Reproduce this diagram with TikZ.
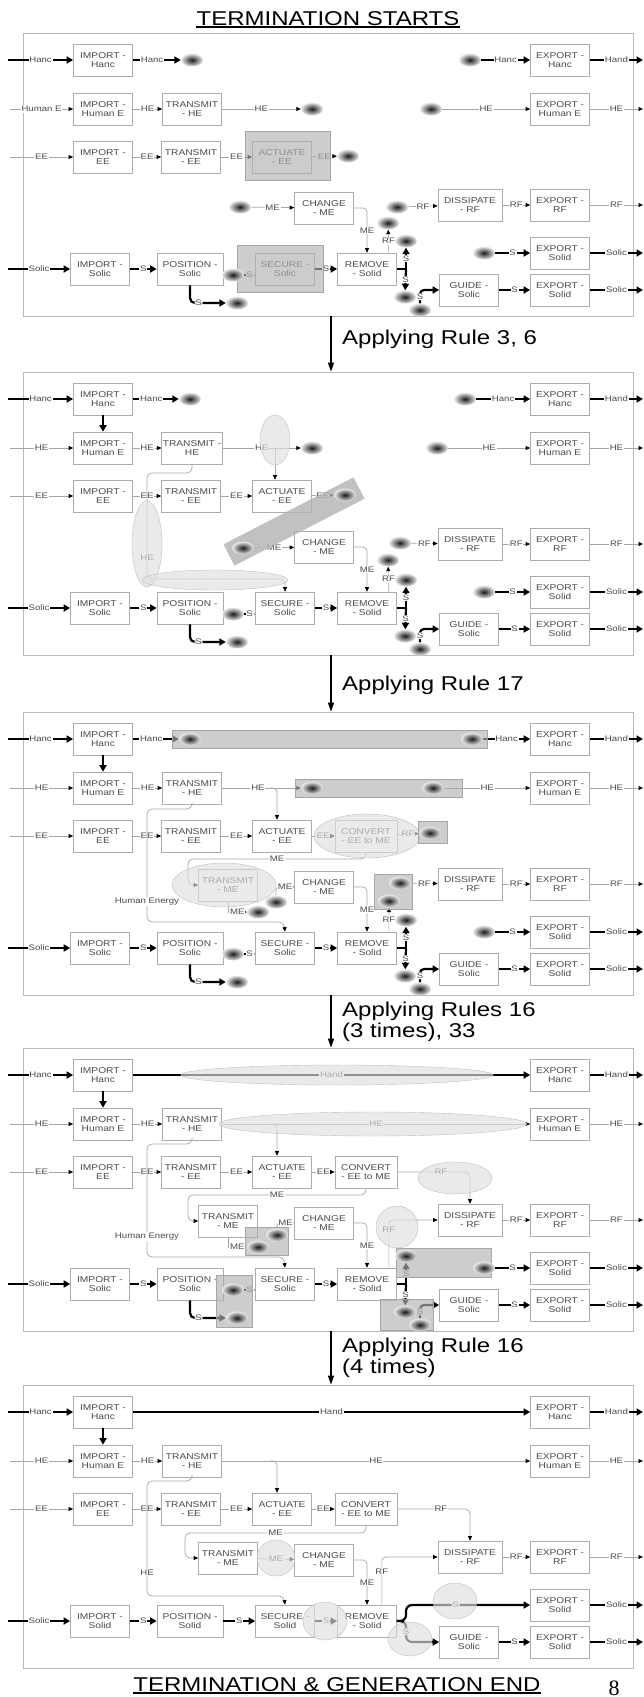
\documentclass[tikz,border=0pt]{standalone}
\usepackage{fontspec}
\setmainfont{Liberation Sans}[FakeStretch=1.2]
\newfontfamily\pagefont{Liberation Serif}
\usetikzlibrary{arrows.meta,shapes.geometric}
\pgfdeclarelayer{marks}
\pgfdeclarelayer{blobs}
\pgfsetlayers{main,marks,blobs}

\newcommand\boxfont{\fontsize{8.5}{9.5}\selectfont}
\newcommand\lblfont{\fontsize{8}{9}\selectfont}
\newcommand\bigfont{\fontsize{20}{21}\selectfont}

\tikzset{
  fn/.style={draw=gray!65, fill=white, line width=0.7pt, minimum width=59pt, minimum height=32pt, inner sep=1pt, align=center, font=\boxfont, text=black!70},
  frame/.style={draw=gray!55, line width=0.8pt, minimum width=610pt, minimum height=283pt, inner sep=0pt},
  blob/.style={ellipse, minimum width=22pt, minimum height=13pt, inner sep=0pt, inner color=black!90, outer color=gray!15},
  lbl/.style={fill=white, inner sep=0.8pt, font=\lblfont, text=black!70},
  sigline/.style={draw=gray!70, line width=0.7pt},
  sig/.style={sigline, -{Triangle[length=4.5pt, width=4pt, color=black]}},
  matline/.style={draw=black, line width=2.2pt},
  mat/.style={matline, -{Triangle[length=6.5pt, width=7pt]}},
  dk/.style={draw=gray!70, fill=gray!60, fill opacity=0.65},
  lt/.style={draw=gray!50, fill=gray!25, fill opacity=0.65},
  flow/.style={line width=1.3pt, -{Triangle[length=9pt, width=6pt]}},
  ttl/.style={font=\bigfont, inner sep=0pt}
}

% function structure shared by all five stages
\newcommand\skel[4]{%
  \node[frame] (#1fr) at (328,141.5) {};
  \node[fn] (#1ih) at (103,27) {IMPORT -\\Hanc};
  \node[fn] (#1ihe) at (103,76) {IMPORT -\\Human E};
  \node[fn] (#1iee) at (103,124) {IMPORT -\\EE};
  \node[fn] (#1is) at (100,236) {IMPORT -\\#4};
  \node[fn] (#1the) at (192,76) {#3};
  \node[fn] (#1tee) at (191,124) {TRANSMIT\\- EE};
  \node[fn] (#1act) at (282,124) {ACTUATE\\- EE};
  \node[fn] (#1chg) at (324,175) {CHANGE\\- ME};
  \node[fn, minimum width=66pt] (#1pos) at (190,236) {POSITION -\\#4};
  \node[fn] (#1sec) at (285,236) {SECURE -\\#4};
  \node[fn] (#1rem) at (367,236) {REMOVE\\- Solid};
  \node[fn, minimum width=64pt] (#1dis) at (470,172) {DISSIPATE\\- RF};
  \node[fn] (#1gui) at (469,257) {GUIDE -\\Solic};
  \node[fn] (#1eh) at (560,27) {EXPORT -\\Hanc};
  \node[fn] (#1ehe) at (560,76) {EXPORT -\\Human E};
  \node[fn] (#1erf) at (560,172) {EXPORT -\\RF};
  \node[fn] (#1es1) at (560,220) {EXPORT -\\Solid};
  \node[fn] (#1es2) at (560,257) {EXPORT -\\Solid};
  \coordinate (#1inh) at (8,27);
  \coordinate (#1inhe) at (10,76);
  \coordinate (#1inee) at (10,124);
  \coordinate (#1ins) at (8,236);
  \coordinate (#1oh) at (643,27);
  \coordinate (#1ohe) at (643,76);
  \coordinate (#1orf) at (643,172);
  \coordinate (#1os1) at (643,220);
  \coordinate (#1os2) at (643,257);
  \draw[mat] (#1inh) -- node[lbl] {Hanc} (#1ih);
  \draw[sig] (#1inhe) -- node[lbl] {#2} (#1ihe);
  \draw[sig] (#1inee) -- node[lbl] {EE} (#1iee);
  \draw[mat] (#1ins) -- node[lbl] {Solic} (#1is);
  \draw[sig] (#1ihe) -- node[lbl] {HE} (#1the);
  \draw[sig] (#1iee) -- node[lbl] {EE} (#1tee);
  \draw[sig] (#1tee) -- node[lbl] {EE} (#1act);
  \draw[mat] (#1is) -- node[lbl] {S} (#1pos);
  \draw[sig] (#1dis) -- node[lbl] {RF} (#1erf);
  \draw[mat] (#1gui) -- node[lbl] {S} (#1es2);
  \draw[mat] (#1eh) -- node[lbl] {Hand} (#1oh);
  \draw[sig] (#1ehe) -- node[lbl] {HE} (#1ohe);
  \draw[sig] (#1erf) -- node[lbl] {RF} (#1orf);
  \draw[mat] (#1es1) -- node[lbl] {Solic} (#1os1);
  \draw[mat] (#1es2) -- node[lbl] {Solic} (#1os2);
  \draw[sig, rounded corners=4pt] (#1chg.east) -| node[lbl, pos=0.75] {ME} (#1rem.north);
}

% open ends round the solid flow (stages 1 to 4)
\newcommand\solidrow[1]{%
  \begin{pgfonlayer}{blobs}
    \node[blob] (#1ss) at (233,242) {};
    \node[blob] (#1ps) at (237,270) {};
    \node[blob] (#1us) at (406,208) {};
    \node[blob] (#1ls) at (405,264) {};
    \node[blob] (#1gs) at (420,277) {};
    \node[blob] (#1or) at (484,220) {};
  \end{pgfonlayer}
  \draw[mat] (#1ss.east) -- node[lbl] {S} (#1ss.east -| #1sec.west);
  \draw[mat, rounded corners=5pt] (#1pos.south) |- node[lbl, pos=0.62] {S} (#1ps);
  \draw[mat] (#1sec) -- node[lbl] {S} (#1rem);
  \coordinate (#1jn) at (406,236);
  \draw[matline] (#1rem.east) -- (#1jn);
  \draw[mat] (#1jn) -- node[lbl] {S} (#1us);
  \draw[mat] (#1jn) -- node[lbl] {S} (#1ls);
  \draw[mat, rounded corners=4pt] (#1gs) |- node[lbl, pos=0.25] {S} (#1gui.west);
  \draw[mat] (#1or) -- node[lbl] {S} (#1es1);
}

\begin{document}
\begin{tikzpicture}[x=1pt, y=-1pt]
  \useasboundingbox (0,0) rectangle (644,1697);

  \node[ttl, anchor=base] (ttop) at (328,25) {TERMINATION STARTS};
  \draw[line width=1.2pt] ([yshift=-2pt]ttop.base west) -- ([yshift=-2pt]ttop.base east);

  % stage 1
  \begin{scope}[shift={(0,33)}]
    \skel{a}{Human E}{TRANSMIT\\- HE}{Solic}
    \begin{pgfonlayer}{blobs}
      \node[blob] (ahs) at (192,27) {};
      \node[blob] (ahr) at (470,27) {};
      \node[blob] (aes) at (312,76) {};
      \node[blob] (aer) at (431,76) {};
      \node[blob] (aees) at (348,123) {};
      \node[blob] (amr) at (240,174) {};
      \node[blob] (arr) at (397,174) {};
      \node[blob] (ars) at (388,190) {};
    \end{pgfonlayer}
    \solidrow{a}
    \draw[mat] (aih) -- node[lbl, pos=0.4] {Hanc} (ahs);
    \draw[mat] (ahr) -- node[lbl] {Hanc} (aeh);
    \draw[sig] (athe) -- node[lbl] {HE} (aes);
    \draw[sig] (aer) -- node[lbl] {HE} (aehe);
    \draw[sig] (aact) -- node[lbl] {EE} (aees);
    \draw[sig] (amr) -- node[lbl] {ME} (achg);
    \draw[sig] (arr) -- node[lbl] {RF} (adis);
    \draw[sig] ([xshift=-8pt]arem.north east) -- node[lbl] {RF} (ars);
    \begin{pgfonlayer}{marks}
      \draw[dk] (245,98) rectangle (330,147);
      \draw[dk] (237,212) rectangle (323,259);
    \end{pgfonlayer}
  \end{scope}

  % stage 2
  \begin{scope}[shift={(0,372)}]
    \skel{b}{HE}{TRANSMIT -\\HE}{Solic}
    \draw[mat] (bih) -- (bihe);
    \begin{pgfonlayer}{blobs}
      \node[blob] (bhs) at (190,27) {};
      \node[blob] (bhr) at (465,27) {};
      \node[blob] (bes) at (312,76) {};
      \node[blob] (ber) at (437,76) {};
      \node[blob] (bees) at (345,123) {};
      \node[blob] (bmr) at (243,176) {};
      \node[blob] (brr) at (400,171) {};
      \node[blob] (brs) at (388,188) {};
    \end{pgfonlayer}
    \solidrow{b}
    \draw[mat] (bih) -- node[lbl, pos=0.4] {Hanc} (bhs);
    \draw[mat] (bhr) -- node[lbl] {Hanc} (beh);
    \coordinate (bhej) at (275,76);
    \draw[sigline] (bthe) -- node[lbl, pos=0.75] {HE} (bhej);
    \draw[sig] (bhej) -- (bes);
    \draw[sig] (bhej) -- (bhej |- bact.north);
    \draw[sig] (ber) -- node[lbl] {HE} (behe);
    \draw[sig] (bact) -- node[lbl] {EE} (bees);
    \draw[sig] (bmr) -- node[lbl] {ME} (bchg);
    \draw[sig] (brr) -- node[lbl] {RF} (bdis);
    \draw[sig] ([xshift=-8pt]brem.north east) -- node[lbl] {RF} (brs);
    \draw[sig, rounded corners=5pt] (bthe.south) |- (147,101) -- node[lbl, pos=0.8] {HE} (147,207) -- (285,207) -- (bsec.north);
    \begin{pgfonlayer}{marks}
      \draw[lt] (275,68) ellipse (15 and 25);
      \draw[lt] (147,172) ellipse (15 and 43);
      \draw[lt] (215,208) ellipse (73 and 10);
      \draw[line width=24pt, draw=gray!60, draw opacity=0.8] (229,183) -- (359,116);
    \end{pgfonlayer}
  \end{scope}

  % stage 3
  \begin{scope}[shift={(0,712)}]
    \skel{c}{HE}{TRANSMIT\\- HE}{Solic}
    \draw[mat] (cih) -- (cihe);
    \node[fn, minimum width=62pt] (cconv) at (366,124) {CONVERT\\- EE to ME};
    \node[fn] (ctme) at (228,173) {TRANSMIT\\- ME};
    \begin{pgfonlayer}{blobs}
      \node[blob] (chs) at (190,27) {};
      \node[blob] (chr) at (472,27) {};
      \node[blob] (ces) at (312,76) {};
      \node[blob] (cer) at (433,76) {};
      \node[blob] (cfs) at (430,121) {};
      \node[blob] (cms) at (258,200) {};
      \node[blob] (cmr) at (276,190) {};
      \node[blob] (crr) at (400,171) {};
      \node[blob] (crs) at (389,189) {};
    \end{pgfonlayer}
    \solidrow{c}
    \draw[mat] (cih) -- node[lbl, pos=0.4] {Hanc} (chs);
    \draw[mat] (chr) -- node[lbl] {Hanc} (ceh);
    \coordinate (chej) at (270,76);
    \draw[sigline] (cthe) -- node[lbl, pos=0.75] {HE} (chej);
    \draw[sig] (chej) -- (ces);
    \draw[sig, rounded corners=4pt] (chej) -| ([xshift=-5pt]cact.north);
    \draw[sig] (cer) -- node[lbl] {HE} (cehe);
    \draw[sig] (cact) -- node[lbl] {EE} (cconv);
    \draw[sig] (cconv) -- node[lbl] {RF} (cfs);
    \draw[sig, rounded corners=5pt] (cconv.south) |- node[lbl, pos=0.75] {ME} (188,147) |- (ctme.west);
    \draw[sig] (ctme.south) |- node[lbl, pos=0.75] {ME} (cms);
    \draw[sig, rounded corners=3pt] (cmr) |- node[lbl, pos=0.75] {ME} (cchg.west);
    \draw[sig] (crr) -- node[lbl] {RF} (cdis);
    \draw[sig] ([xshift=-8pt]crem.north east) -- node[lbl] {RF} (crs);
    \draw[sig, rounded corners=5pt] (cthe.south) |- (147,97) -- node[lbl, pos=0.82] {Human Energy} (147,210) -- (284,210) -- (csec.north);
    \begin{pgfonlayer}{marks}
      \draw[dk] (172,18) rectangle (487,36);
      \draw[dk] (295,67) rectangle (462,85);
      \draw[lt] (367,124) ellipse (53 and 22);
      \draw[dk] (418,109) rectangle (447,131);
      \draw[lt] (224,173) ellipse (52 and 22);
      \draw[dk] (374,162) rectangle (412,197);
    \end{pgfonlayer}
  \end{scope}

  % stage 4
  \begin{scope}[shift={(0,1048)}]
    \skel{d}{HE}{TRANSMIT\\- HE}{Solic}
    \draw[mat] (dih) -- (dihe);
    \node[fn, minimum width=62pt] (dconv) at (366,124) {CONVERT\\- EE to ME};
    \node[fn] (dtme) at (228,173) {TRANSMIT\\- ME};
    \begin{pgfonlayer}{blobs}
      \node[blob] (dms) at (258,199) {};
      \node[blob] (dmr) at (277,187) {};
    \end{pgfonlayer}
    \solidrow{d}
    \draw[mat] (dih) -- node[lbl, pos=0.5] {Hand} (deh);
    \draw[sig] (dthe) -- node[lbl] {HE} (dehe);
    \coordinate (dhej) at (270,76);
    \draw[sig, rounded corners=4pt] (dhej) -| ([xshift=-5pt]dact.north);
    \draw[sig] (dact) -- node[lbl] {EE} (dconv);
    \draw[sig, rounded corners=5pt] (dconv.east) -| node[lbl, pos=0.3] {RF} (ddis.north);
    \draw[sig, rounded corners=5pt] (dconv.south) |- node[lbl, pos=0.75] {ME} (188,147) |- (dtme.west);
    \draw[sig] (dtme.south) |- node[lbl, pos=0.75] {ME} (dms);
    \draw[sig, rounded corners=3pt] (dmr) |- node[lbl, pos=0.75] {ME} (dchg.west);
    \draw[sig, rounded corners=4pt] ([xshift=-8pt]drem.north east) |- node[lbl, pos=0.4] {RF} (ddis.west);
    \draw[sig, rounded corners=5pt] (dthe.south) |- (147,96) -- node[lbl, pos=0.82] {Human Energy} (147,209) -- (284,209) -- (dsec.north);
    \begin{pgfonlayer}{marks}
      \draw[lt] (337,27) ellipse (156 and 10);
      \draw[lt] (373,76) ellipse (154 and 12);
      \draw[lt] (455,130) ellipse (37 and 16);
      \draw[dk] (245,179) rectangle (288,207);
      \draw[lt] (397,179) circle (21);
      \draw[dk] (396,200) rectangle (491,229);
      \draw[dk] (216,227) rectangle (252,279);
      \draw[dk] (380,251) rectangle (433,282);
    \end{pgfonlayer}
  \end{scope}

  % stage 5
  \begin{scope}[shift={(0,1385)}]
    \skel{e}{HE}{TRANSMIT\\- HE}{Solid}
    \draw[mat] (eih) -- (eihe);
    \node[fn, minimum width=62pt] (econv) at (366,124) {CONVERT\\- EE to ME};
    \node[fn] (etme) at (228,173) {TRANSMIT\\- ME};
    \draw[mat] (eih) -- node[lbl] {Hand} (eeh);
    \draw[sig] (ethe) -- node[lbl] {HE} (eehe);
    \coordinate (ehej) at (270,76);
    \draw[sig, rounded corners=4pt] (ehej) -| ([xshift=-5pt]eact.north);
    \draw[sig] (eact) -- node[lbl] {EE} (econv);
    \draw[sig, rounded corners=5pt] (econv.east) -| node[lbl, pos=0.3] {RF} (edis.north);
    \draw[sig, rounded corners=5pt] (econv.south) |- node[lbl, pos=0.75] {ME} (185,148) |- (etme.west);
    \draw[sig] (etme) -- node[lbl] {ME} (echg);
    \draw[sig, rounded corners=5pt] (ethe.south) |- (147,96) -- node[lbl, pos=0.8] {HE} (147,211) -- (284,211) -- (esec.north);
    \draw[sig, rounded corners=4pt] ([xshift=-15pt]erem.north east) |- node[lbl, pos=0.35] {RF} (edis.west);
    \draw[mat] (epos) -- node[lbl] {S} (esec);
    \draw[mat] (esec) -- node[lbl] {S} (erem);
    \draw[mat, rounded corners=6pt] (erem.east) -- (406,236) |- node[lbl, pos=0.7] {S} (ees1.west);
    \draw[mat, rounded corners=6pt] (erem.east) -- (406,236) |- node[lbl, pos=0.25] {S} (egui.west);
    \begin{pgfonlayer}{marks}
      \draw[lt] (276,173) ellipse (19 and 18);
      \draw[lt] (455,216) ellipse (22 and 18);
      \draw[lt] (410,254) ellipse (22 and 17);
      \draw[lt] (325,236) ellipse (22 and 19);
    \end{pgfonlayer}
  \end{scope}

  % rule steps between the stages
  \draw[flow] ([xshift=3pt]afr.south) -- ([xshift=3pt]bfr.north);
  \draw[flow] ([xshift=3pt]bfr.south) -- ([xshift=3pt]cfr.north);
  \draw[flow] ([xshift=3pt]cfr.south) -- ([xshift=3pt]dfr.north);
  \draw[flow] ([xshift=3pt]dfr.south) -- ([xshift=3pt]efr.north);
  \node[ttl, anchor=base west] (r1) at (342,344) {Applying Rule 3, 6};
  \node[ttl, anchor=base west] (r2) at (342,690) {Applying Rule 17};
  \node[ttl, anchor=base west, align=left] (r3) at (342,1037) {Applying Rules 16\\(3 times), 33};
  \node[ttl, anchor=base west, align=left] (r4) at (342,1373) {Applying Rule 16\\(4 times)};

  \node[ttl, anchor=base] (tbot) at (337,1691) {TERMINATION \& GENERATION END};
  \draw[line width=1.2pt] ([yshift=-2pt]tbot.base west) -- ([yshift=-2pt]tbot.base east);
  \node[font=\pagefont\fontsize{22}{24}\selectfont, anchor=base, inner sep=0pt] (pg) at (614,1695) {8};
\end{tikzpicture}
\end{document}
